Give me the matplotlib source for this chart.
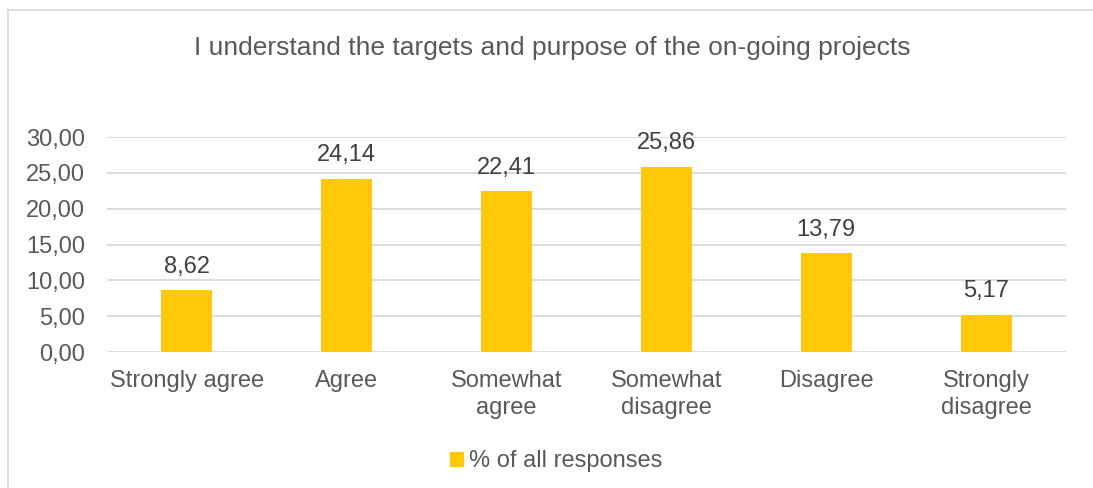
import matplotlib
matplotlib.use("Agg")
import matplotlib.pyplot as plt
from matplotlib.patches import Patch
from matplotlib.lines import Line2D
from matplotlib.ticker import FuncFormatter

# Survey data
categories = ["Strongly agree", "Agree", "Somewhat\nagree", "Somewhat\ndisagree",
              "Disagree", "Strongly\ndisagree"]
values = [8.62, 24.14, 22.41, 25.86, 13.79, 5.17]
series_name = "% of all responses"
title = "I understand the targets and purpose of the on-going projects"
y_ticks = [0, 5, 10, 15, 20, 25, 30]

BAR = "#FFC90A"
TEXT = "#595959"
LABEL = "#404040"
GRID = "#D9D9D9"

plt.rcParams["font.family"] = ["Liberation Sans", "DejaVu Sans"]

W, H = 1093, 488
fig = plt.figure(figsize=(W / 100, H / 100), dpi=100)

# Chart-area border (top and left edges visible)
fig.add_artist(Line2D([8 / W, 1], [1 - 10 / H, 1 - 10 / H], transform=fig.transFigure,
                      color=GRID, lw=1.2))
fig.add_artist(Line2D([8 / W, 8 / W], [0, 1 - 10 / H], transform=fig.transFigure,
                      color=GRID, lw=1.2))

ax = fig.add_axes([107 / W, 136 / H, (1066 - 107) / W, 215 / H])
x = list(range(len(categories)))
bars = ax.bar(x, values, width=0.32, color=BAR, zorder=3)

ax.set_xlim(-0.5, len(categories) - 0.5)
ax.set_ylim(0, 30)
ax.set_yticks(y_ticks)
ax.yaxis.set_major_formatter(FuncFormatter(lambda v, p: f"{v:.2f}".replace(".", ",")))
ax.set_xticks(x)
ax.set_xticklabels(categories, linespacing=1.32)
ax.tick_params(axis="y", length=0, pad=16, labelsize=17, labelcolor=TEXT)
ax.tick_params(axis="x", length=0, pad=13, labelsize=17, labelcolor=TEXT)
ax.grid(axis="y", color=GRID, lw=1.3, zorder=0)
for s in ax.spines.values():
    s.set_visible(False)

for xi, v in zip(x, values):
    ax.annotate(f"{v:.2f}".replace(".", ","), (xi, v), xytext=(0, 9),
                textcoords="offset points", ha="center", va="bottom",
                fontsize=17, color=LABEL)

fig.text(552 / W, 1 - 48 / H, title, ha="center", va="center", fontsize=19, color=TEXT)

fig.legend(handles=[Patch(color=BAR, label=series_name)], loc="center",
           bbox_to_anchor=(556 / W, 1 - 461 / H), frameon=False, fontsize=17,
           labelcolor=TEXT, handlelength=0.55, handleheight=0.55, handletextpad=0.25)

fig.savefig("out.png", dpi=100)
